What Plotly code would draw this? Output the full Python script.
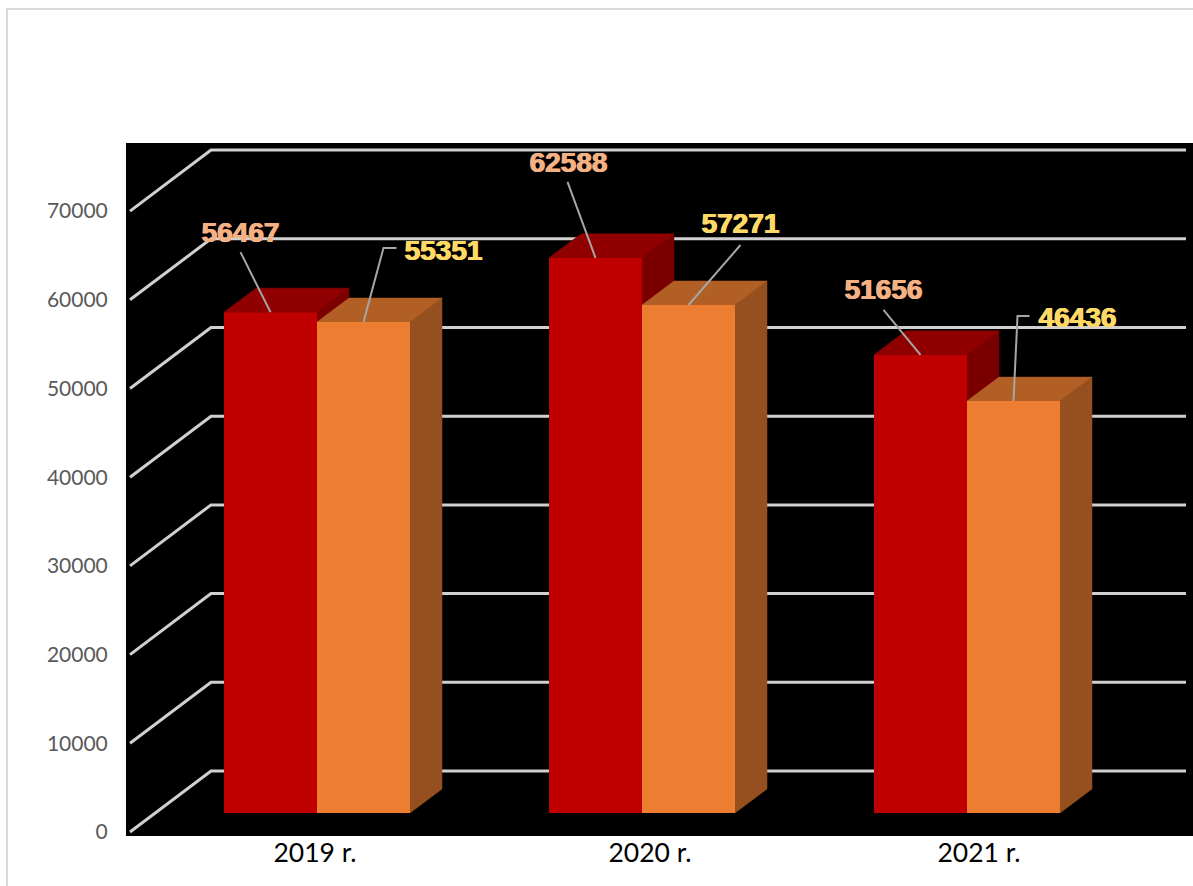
import plotly.graph_objects as go

# ---- data ----
categories = ["2019 r.", "2020 r.", "2021 r."]
series_a = [56467, 62588, 51656]
series_b = [55351, 57271, 46436]
y_ticks = [0, 10000, 20000, 30000, 40000, 50000, 60000, 70000]
grid_values = y_ticks

# ---- geometry / style ----
W, H = 1193, 886
L, R, T, B = 126, 1193, 143, 836
PX_PER_X = 325.0              # pixels per category step
PX_PER_Y = 0.00887            # pixels per value unit
X0_PX = 317.0                 # pixel of first category
Y0_PX = 832.0                 # pixel of value 0 on the front wall

def dx(px):
    return px / PX_PER_X

def dy(px):
    return px / PX_PER_Y

x_range = [dx(L - X0_PX), dx(R - X0_PX)]
y_range = [dy(Y0_PX - B), dy(Y0_PX - T)]
x_pos = [0, 1, 2]
x_label_pos = [dx(-2), dx(8) + 1, dx(12) + 2]

BAR_W = dx(93)
BAR_BASE = dy(19)             # floor offset of the bar fronts
DEPTH_X, DEPTH_Y = dx(32), dy(24)
WALL_X, WALL_Y = dx(81), dy(61)
GRID_START = dx(130 - X0_PX)
GRID_END = dx(1186 - X0_PX)

RED = dict(front="#C00000", top="#900000", side="#7A0000", label="#F4B183")
ORG = dict(front="#ED7D31", top="#B25F26", side="#96501F", label="#FFD966")

# label offsets (px) from the top centre of each bar: label centre, leader points
label_a = [(-30, -77.5), (-27, -92.5), (-37, -62.5)]
label_b = [(80, -69.5), (52, -79.5), (64, -81.5)]
leader_a = [[(-30, -60)], [(-28, -76)], [(-37, -45)]]
leader_b = [[(20, -74), (33, -74)], [(52, -60)], [(4, -85), (16, -85)]]

fig = go.Figure()

# back wall and side wall grid lines
gx, gy = [], []
for v in grid_values:
    gx += [GRID_START, GRID_START + WALL_X, GRID_END, None]
    gy += [v, v + WALL_Y, v + WALL_Y, None]
fig.add_trace(go.Scatter(x=gx, y=gy, mode="lines", showlegend=False, hoverinfo="skip",
                         line=dict(color="#D0D0D0", width=3)))


def poly(xs, ys, color):
    fig.add_trace(go.Scatter(x=xs + xs[:1], y=ys + ys[:1], mode="lines", fill="toself",
                             fillcolor=color, line=dict(color=color, width=0.5),
                             showlegend=False, hoverinfo="skip"))


# 3-D top and side faces (back subplot, under the bar fronts)
for pos, a, b in zip(x_pos, series_a, series_b):
    for left, val, pal in ((pos - BAR_W, a, RED), (pos, b, ORG)):
        right = left + BAR_W
        top = val + BAR_BASE
        poly([right, right + DEPTH_X, right + DEPTH_X, right],
             [BAR_BASE, BAR_BASE + DEPTH_Y, top + DEPTH_Y, top], pal["side"])
        poly([left, left + DEPTH_X, right + DEPTH_X, right],
             [top, top + DEPTH_Y, top + DEPTH_Y, top], pal["top"])

# bar fronts (overlay subplot)
fig.add_trace(go.Bar(x=x_pos, y=series_a, base=[BAR_BASE] * 3, width=[BAR_W] * 3,
                     offset=[-BAR_W] * 3, marker=dict(color=RED["front"], line=dict(width=0)),
                     showlegend=False, xaxis="x2", yaxis="y2"))
fig.add_trace(go.Bar(x=x_pos, y=series_b, base=[BAR_BASE] * 3, width=[BAR_W] * 3,
                     offset=[0] * 3, marker=dict(color=ORG["front"], line=dict(width=0)),
                     showlegend=False, xaxis="x2", yaxis="y2"))

# leader lines and data labels
for sign, vals, labels, leaders, pal in ((-0.5, series_a, label_a, leader_a, RED),
                                         (0.5, series_b, label_b, leader_b, ORG)):
    lx, ly, tx, ty, tt = [], [], [], [], []
    for pos, val, lab, lead in zip(x_pos, vals, labels, leaders):
        ax = pos + sign * BAR_W
        ay = val + BAR_BASE
        lx += [ax] + [ax + dx(p[0]) for p in lead] + [None]
        ly += [ay] + [ay - dy(p[1]) for p in lead] + [None]
        tx.append(ax + dx(lab[0]))
        ty.append(ay - dy(lab[1]))
        tt.append(str(val))
    fig.add_trace(go.Scatter(x=lx, y=ly, mode="lines", showlegend=False, hoverinfo="skip",
                             line=dict(color="#A6A6A6", width=2), xaxis="x2", yaxis="y2"))
    fig.add_trace(go.Scatter(x=tx, y=ty, text=tt, mode="text", textposition="middle center",
                             showlegend=False, hoverinfo="skip", xaxis="x2", yaxis="y2",
                             textfont=dict(family="Liberation Sans", size=28, color=pal["label"],
                                           weight="bold",
                                           shadow="0.6px 0 0 %s, -0.6px 0 0 %s" % (pal["label"], pal["label"]))))

frame = dict(type="rect", xref="paper", yref="paper", layer="above",
             x0=(7 - L) / (R - L), x1=(W + 20 - L) / (R - L),
             y0=(B - (H + 20)) / (B - T), y1=(B - 9) / (B - T),
             line=dict(color="#DADADA", width=2), fillcolor="rgba(0,0,0,0)")

fig.update_layout(
    width=W, height=H, autosize=False,
    margin=dict(l=L, r=W - R, t=T, b=H - B),
    paper_bgcolor="white", plot_bgcolor="black",
    barmode="overlay", showlegend=False, shapes=[frame],
    xaxis=dict(range=x_range, tickvals=x_label_pos, ticktext=categories, showgrid=False,
               zeroline=False, showline=False, ticks="", ticklabelstandoff=-2,
               tickfont=dict(family="Lato", size=26.5, color="#000000")),
    yaxis=dict(range=y_range, tickvals=y_ticks, showgrid=False, zeroline=False, showline=False,
               ticks="outside", ticklen=13, tickcolor="rgba(0,0,0,0)", tickformat="d",
               tickfont=dict(family="Lato", size=21, color="#595959")),
    xaxis2=dict(range=x_range, overlaying="x", visible=False),
    yaxis2=dict(range=y_range, overlaying="y", visible=False),
)

fig.write_html("out.html", config=dict(displayModeBar=False),
               post_script="document.body.style.margin='0';document.body.style.overflow='hidden';")
